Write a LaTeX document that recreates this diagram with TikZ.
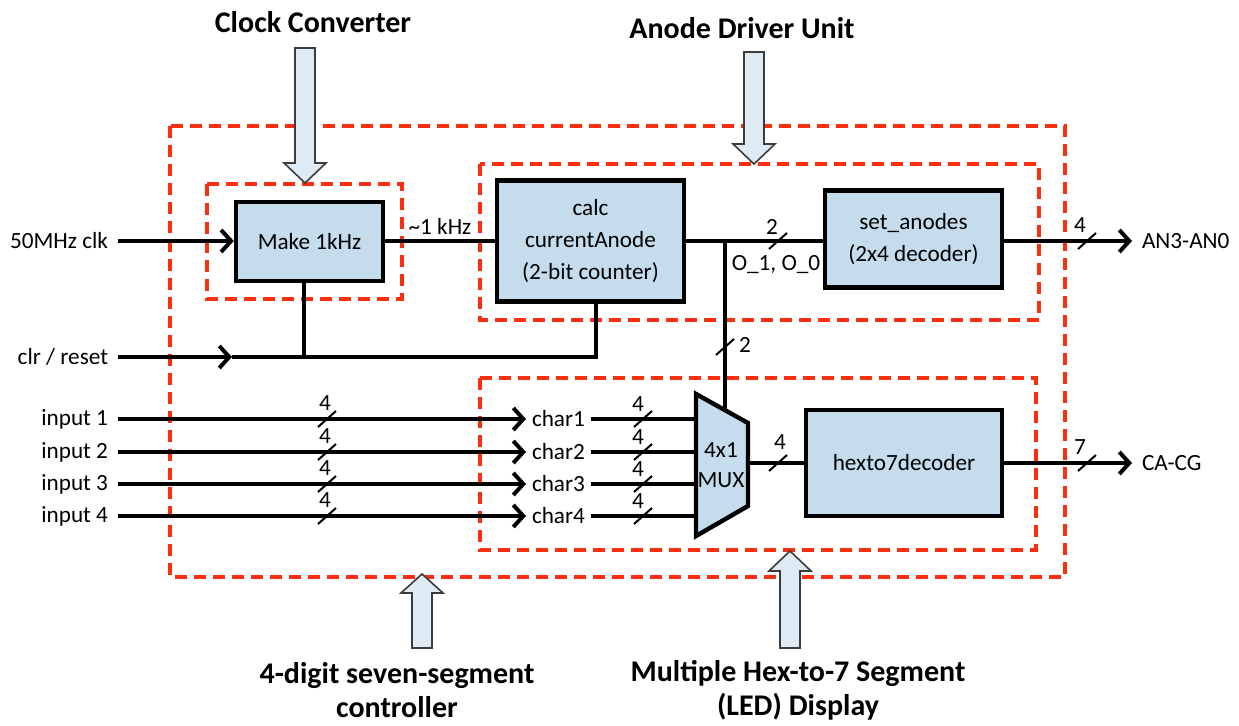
\documentclass[tikz,border=0pt]{standalone}
\usepackage{fontspec}
\setmainfont{Carlito}
\usetikzlibrary{arrows.meta,calc}
\newcommand{\normtext}{\fontsize{11.6}{16}\selectfont}
\newcommand{\titletext}{\fontsize{15}{17}\selectfont\bfseries}
\newcommand{\busmark}[4]{%
  \draw[slash] ($(#2)+(-9,8)$) -- ($(#2)+(9,-8)$);
  \node[buslabel] (#1) at ($(#2)+(#3)$) {#4};}
\newcommand{\hollowarrow}[4]{%
  \draw[bigarrow] (#1-10,#2) -- (#1-10,#3) -- (#1-21,#3) -- (#1,#4) --
    (#1+21,#3) -- (#1+10,#3) -- (#1+10,#2) -- cycle;}
\begin{document}
\begin{tikzpicture}[x=0.5pt,y=-0.5pt,
  >={Straight Barb[length=5pt,width=11pt]},
  block/.style={draw,line width=2.2pt,fill=blockfill,inner sep=0pt,align=center,font=\normtext},
  group/.style={draw=groupred,line width=1.6pt,dash pattern=on 6pt off 3.5pt},
  wire/.style={line width=2pt},
  slash/.style={line width=1pt},
  buslabel/.style={inner sep=0pt,font=\normtext},
  iolabel/.style={inner sep=0pt,outer sep=5pt,font=\normtext},
  charlabel/.style={inner sep=0pt,outer sep=3pt,font=\normtext},
  title/.style={inner sep=0pt,align=center,font=\titletext},
  bigarrow/.style={draw=arrowline,line width=0.8pt,fill=arrowfill}]
\definecolor{blockfill}{RGB}{197,220,237}
\definecolor{groupred}{RGB}{250,45,15}
\definecolor{arrowfill}{RGB}{222,235,245}
\definecolor{arrowline}{RGB}{60,60,60}
\path[use as bounding box,fill=white] (0,0) rectangle (1239,726);

% dashed groups
\draw[group] (170,126) rectangle (1065,577);
\draw[group] (207,184) rectangle (402,299);
\draw[group] (480,164) rectangle (1039,320);
\draw[group] (480,378) rectangle (1036,550);

% titles and pointers
\node[title] (cc) at (313,22) {Clock Converter};
\node[title] (adu) at (742,28) {Anode Driver Unit};
\node[title] (ctrl) at (397,690) {4-digit seven-segment\\controller};
\node[title] (disp) at (798,690) {Multiple Hex-to-7 Segment\\(LED) Display};
\hollowarrow{305}{48}{163}{183}
\hollowarrow{754}{52}{144}{164}
\hollowarrow{422}{648}{593}{574}
\hollowarrow{790}{648}{571}{551}

% blocks
\node[block,minimum width=73.5pt,minimum height=39.5pt] (make) at (309.5,241.5) {Make 1kHz};
\node[block,minimum width=93.5pt,minimum height=60.5pt] (calc) at (590.5,241) {calc\\currentAnode\\(2-bit counter)};
\node[block,minimum width=88.5pt,minimum height=48.5pt] (anodes) at (913.5,239) {set\_anodes\\(2x4 decoder)};
\node[block,minimum width=98pt,minimum height=53pt] (hexdec) at (904,463) {hexto7decoder};
\draw[block] (696,394) -- (748,423) -- (748,506) -- (696,536) -- cycle;
\node[inner sep=0pt,align=center,font=\normtext] (mux) at (721,465) {4x1\\[-1pt]MUX};
\coordinate (muxtop) at (725,410);
\coordinate (muxout) at (748,463);

% clock path
\node[iolabel,anchor=east] (clk) at (118,241) {50MHz clk};
\draw[wire,->] (clk.east) -- (clk.east -| make.west);
\draw[wire] (make.east) -- (make.east -| calc.west);
\node[buslabel] (khz) at (440,226) {\textasciitilde1 kHz};

% anode path
\coordinate (branch) at (725,241);
\draw[wire] (calc.east) -- (calc.east -| anodes.west);
\draw[wire] (branch) -- (muxtop);
\busmark{sel}{778,241}{-6,-14}{2}
\node[buslabel] (sel0) at (776,265) {O\_1, O\_0};
\busmark{muxsel}{725,347}{20,-2}{2}
\node[iolabel,anchor=west] (an) at (1132,241) {AN3-AN0};
\draw[wire,->] (an.west -| anodes.east) -- (an.west);
\busmark{anbus}{1087,241}{-7,-16}{4}

% reset path
\node[iolabel,anchor=east] (clr) at (118,357) {clr / reset};
\coordinate (clrmid) at (232,357);
\coordinate (clrjoin) at (304,357);
\coordinate (clrturn) at (596,357);
\draw[wire,->] (clr.east) -- (clrmid);
\draw[wire] (clrmid) -- (clrturn) -- (clrturn |- calc.south);
\draw[wire] (clrjoin |- make.south) -- (clrjoin);

% character inputs
\foreach \i/\y in {1/419,2/452,3/484,4/516}{
  \node[iolabel,anchor=east] (in\i) at (118,\y) {input \i};
  \node[charlabel,anchor=west] (ch\i) at (526,\y) {char\i};
  \coordinate (muxin\i) at (696,\y);
  \draw[wire,->] (in\i.east) -- (ch\i.west);
  \draw[wire] (ch\i.east) -- (muxin\i);
  \busmark{inbus\i}{327,\y}{-2,-16}{4}
  \busmark{chbus\i}{643,\y}{-5,-15}{4}
}

% segment output
\draw[wire] (muxout) -- (muxout -| hexdec.west);
\busmark{hexbus}{778,463}{2,-21}{4}
\node[iolabel,anchor=west] (seg) at (1132,463) {CA-CG};
\draw[wire,->] (hexdec.east) -- (seg.west);
\busmark{segbus}{1087,463}{-7,-16}{7}
\end{tikzpicture}
\end{document}
